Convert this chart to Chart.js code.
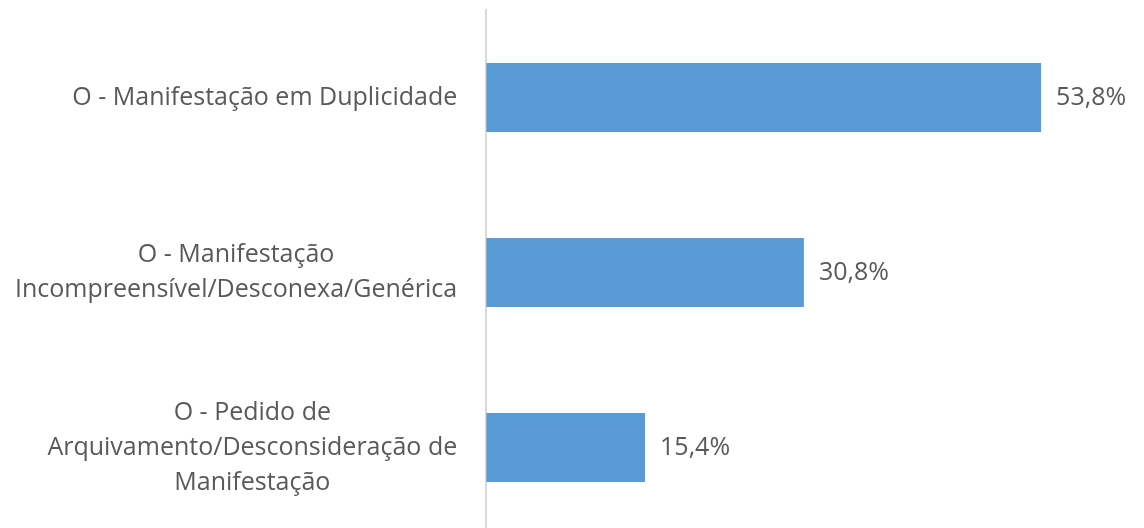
<!DOCTYPE html>
<html>
<head>
<meta charset="utf-8">
<script src="https://cdn.jsdelivr.net/npm/chart.js@4/dist/chart.umd.min.js"></script>
<style>
  html, body { margin: 0; padding: 0; background: #fff; overflow: hidden; }
  #wrap { width: 1144px; height: 545px; }
</style>
</head>
<body>
<div id="wrap"><canvas id="grafico"></canvas></div>
<script>
// categorias e valores (%)
var categorias = [
  'O - Manifestação em Duplicidade',
  ['O - Manifestação', 'Incompreensível/Desconexa/Genérica'],
  ['O - Pedido de', 'Arquivamento/Desconsideração de', 'Manifestação']
];
var percentuais = [53.8, 30.8, 15.4];
var rotulos = ['53,8%', '30,8%', '15,4%'];

var fonteTexto = '25px "Open Sans"';
var corTexto = '#595959';
var alturaLinha = 35;
var espacoEixo = 29;

// rotulos de valor ao lado das barras
var rotuloBarras = {
  id: 'rotuloBarras',
  afterDatasetsDraw: function (chart) {
    var ctx = chart.ctx;
    var meta = chart.getDatasetMeta(0);
    ctx.save();
    ctx.font = fonteTexto;
    ctx.fillStyle = corTexto;
    ctx.textAlign = 'left';
    ctx.textBaseline = 'middle';
    for (var i = 0; i < meta.data.length; i++) {
      var barra = meta.data[i];
      ctx.fillText(rotulos[i], barra.x + 15, barra.y);
    }
    ctx.restore();
  }
};

// categorias: bloco alinhado a direita, linhas centralizadas (como no Excel)
var rotuloCategorias = {
  id: 'rotuloCategorias',
  afterDraw: function (chart) {
    var ctx = chart.ctx;
    var escala = chart.scales.y;
    ctx.save();
    ctx.font = fonteTexto;
    ctx.fillStyle = corTexto;
    ctx.textAlign = 'center';
    ctx.textBaseline = 'middle';
    for (var i = 0; i < categorias.length; i++) {
      var linhas = [].concat(categorias[i]);
      var largura = 0;
      for (var j = 0; j < linhas.length; j++) {
        largura = Math.max(largura, ctx.measureText(linhas[j]).width);
      }
      var centroX = escala.right - espacoEixo - largura / 2;
      var centroY = escala.getPixelForTick(i);
      for (var k = 0; k < linhas.length; k++) {
        var y = centroY + (k - (linhas.length - 1) / 2) * alturaLinha;
        ctx.fillText(linhas[k], centroX, y);
      }
    }
    ctx.restore();
  }
};

var graficoCanvas = document.getElementById('grafico');

new Chart(graficoCanvas, {
  type: 'bar',
  data: {
    labels: categorias,
    datasets: [{
      label: 'Percentual',
      data: percentuais,
      backgroundColor: '#5b9bd5',
      borderWidth: 0,
      barPercentage: 0.79,
      categoryPercentage: 0.5
    }]
  },
  options: {
    indexAxis: 'y',
    responsive: true,
    maintainAspectRatio: false,
    animation: false,
    layout: { padding: { top: 10, bottom: 10, right: 8, left: 14 } },
    plugins: {
      legend: { display: false },
      tooltip: { enabled: false }
    },
    scales: {
      x: {
        min: 0,
        max: 63,
        display: false,
        grid: { display: false }
      },
      y: {
        grid: { display: false, drawTicks: false },
        border: { display: true, color: '#d9d9d9', width: 2 },
        ticks: {
          color: 'rgba(0,0,0,0)',
          font: { family: 'Open Sans', size: 25, lineHeight: 1.4 },
          padding: 15
        },
        afterFit: function (escala) {
          escala.paddingTop = 0;
          escala.paddingBottom = 0;
        }
      }
    }
  },
  plugins: [rotuloBarras, rotuloCategorias]
});
</script>
</body>
</html>
